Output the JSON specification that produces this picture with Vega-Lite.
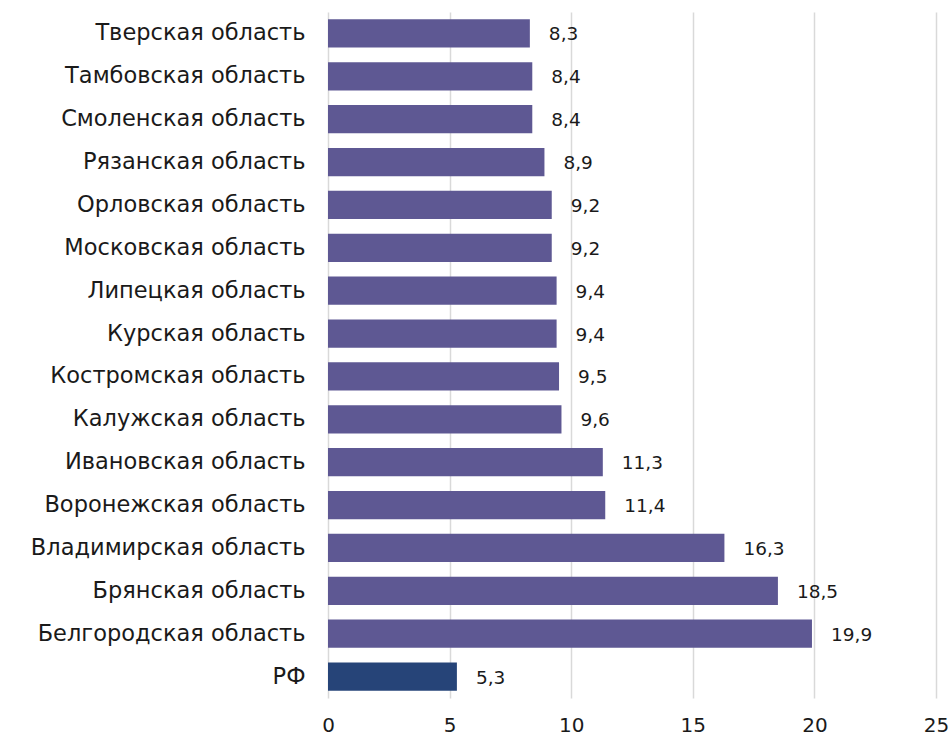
{
  "$schema": "https://vega.github.io/schema/vega-lite/v6.json",
  "width": 608,
  "height": 686,
  "autosize": {"type": "none"},
  "padding": {"left": 328, "top": 12, "right": 15, "bottom": 40},
  "background": "white",
  "config": {"view": {"stroke": null}, "font": "DejaVu Sans"},
  "data": {"values": [
    {"region": "Тверская область", "value": 8.3, "label": "8,3", "group": "reg"},
    {"region": "Тамбовская область", "value": 8.4, "label": "8,4", "group": "reg"},
    {"region": "Смоленская область", "value": 8.4, "label": "8,4", "group": "reg"},
    {"region": "Рязанская область", "value": 8.9, "label": "8,9", "group": "reg"},
    {"region": "Орловская область", "value": 9.2, "label": "9,2", "group": "reg"},
    {"region": "Московская область", "value": 9.2, "label": "9,2", "group": "reg"},
    {"region": "Липецкая область", "value": 9.4, "label": "9,4", "group": "reg"},
    {"region": "Курская область", "value": 9.4, "label": "9,4", "group": "reg"},
    {"region": "Костромская область", "value": 9.5, "label": "9,5", "group": "reg"},
    {"region": "Калужская область", "value": 9.6, "label": "9,6", "group": "reg"},
    {"region": "Ивановская область", "value": 11.3, "label": "11,3", "group": "reg"},
    {"region": "Воронежская область", "value": 11.4, "label": "11,4", "group": "reg"},
    {"region": "Владимирская область", "value": 16.3, "label": "16,3", "group": "reg"},
    {"region": "Брянская область", "value": 18.5, "label": "18,5", "group": "reg"},
    {"region": "Белгородская область", "value": 19.9, "label": "19,9", "group": "reg"},
    {"region": "РФ", "value": 5.3, "label": "5,3", "group": "rf"}
  ]},
  "encoding": {
    "y": {"field": "region", "type": "nominal", "sort": null, "title": null,
      "scale": {"paddingInner": 0.34, "paddingOuter": 0.17},
      "axis": {"domain": false, "ticks": false, "labelPadding": 23, "labelFontSize": 22.5, "labelLimit": 400, "labelColor": "#1a1a1a", "labelFont": "DejaVu Sans"}},
    "x": {"field": "value", "type": "quantitative", "title": null,
      "scale": {"domain": [0, 25], "nice": false},
      "axis": {"values": [0, 5, 10, 15, 20, 25], "domain": false, "ticks": false, "labelPadding": 17, "labelFontSize": 20, "labelColor": "#1a1a1a", "gridColor": "#d9d9d9", "gridWidth": 1.5, "labelFlush": false}}
  },
  "layer": [
    {"mark": {"type": "bar"},
     "encoding": {"color": {"field": "group", "type": "nominal", "legend": null,
       "scale": {"domain": ["reg", "rf"], "range": ["#5e5893", "#264478"]}}}},
    {"mark": {"type": "text", "align": "left", "dx": 19, "dy": 1, "fontSize": 18.5, "color": "#1a1a1a"},
     "encoding": {"text": {"field": "label"}}}
  ]
}
